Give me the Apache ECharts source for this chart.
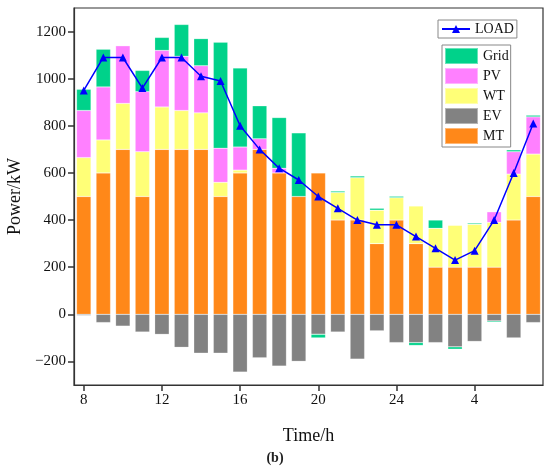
<!DOCTYPE html>
<html><head><meta charset="utf-8">
<script src="https://cdn.jsdelivr.net/npm/echarts@6/dist/echarts.min.js"></script>
<style>html,body{margin:0;padding:0;background:#fff}#c{width:550px;height:473px}</style>
</head><body><div id="c"></div>
<script>
const hours = ['8','9','10','11','12','13','14','15','16','17','18','19','20','21','22','23','24','1','2','3','4','5','6','7'];
const MT   = [500,600,700,500,700,700,700,500,600,700,600,500,600,400,400,300,400,300,200,200,200,200,400,500];
const WT   = [165,140,195,190,180,165,155,60,12,0,0,0,0,117,180,142,95,160,165,178,182,190,195,180];
const PV   = [200,225,245,255,240,230,200,145,98,45,20,0,0,0,0,0,0,0,0,0,0,45,95,158];
const Grid = [90,160,0,90,55,135,115,450,335,140,215,270,-15,6,7,8,6,-12,35,-10,5,-5,8,7];
const EV   = [-5,-35,-50,-75,-85,-140,-165,-165,-245,-185,-220,-200,-85,-75,-190,-70,-120,-120,-120,-138,-115,-28,-100,-35];
const LOAD = [950,1090,1090,960,1090,1090,1010,990,800,700,620,570,500,450,400,380,380,330,280,230,270,400,600,810];
const yTicks = [-200,0,200,400,600,800,1000,1200];

const font = 'Liberation Serif, Times New Roman, serif';
const chart = echarts.init(document.getElementById('c'));
const barCommon = {type:'bar', stack:'p', barWidth:'74%', itemStyle:{borderColor:'rgba(255,255,255,0.4)', borderWidth:0.5}};
chart.setOption({
  animation:false,
  textStyle:{fontFamily:font},
  title:{text:'(b)', left:'center', bottom:3, textStyle:{fontFamily:font, fontSize:14, fontWeight:'bold', color:'#222'}},
  grid:{left:74, right:7, top:8, bottom:88, outerBoundsMode:'none', containLabel:false, show:true, borderColor:'#333', borderWidth:1.2, backgroundColor:'transparent'},
  legend:[
    {data:['LOAD'], left:438, top:20, padding:[2,3], itemWidth:28, itemHeight:10, borderColor:'#888', borderWidth:1,
     textStyle:{fontFamily:font, fontSize:14, color:'#111'}},
    {data:['Grid','PV','WT','EV','MT'], orient:'vertical', left:442, top:45, padding:[2,2,2,2], itemGap:2, itemWidth:33, itemHeight:16,
     icon:'rect', borderColor:'#888', borderWidth:1, textStyle:{fontFamily:font, fontSize:14, color:'#111'}}
  ],
  xAxis:{type:'category', data:hours, name:'Time/h', nameLocation:'middle', nameGap:42,
    nameTextStyle:{fontFamily:font, fontSize:18, color:'#111'},
    axisLine:{show:true, onZero:false, lineStyle:{color:'#333', width:1.2}},
    axisTick:{show:true, interval:3, alignWithLabel:true, length:6, lineStyle:{color:'#333', width:1.5}},
    axisLabel:{show:true, interval:3, fontFamily:font, fontSize:15, color:'#111', margin:8}},
  yAxis:{type:'value', min:-300, max:1300, name:'Power/kW', nameLocation:'middle', nameGap:45,
    nameTextStyle:{fontFamily:font, fontSize:18, color:'#111'},
    splitLine:{show:false},
    axisLine:{show:true, lineStyle:{color:'#333', width:1.2}},
    axisTick:{show:true, length:6, customValues:yTicks, lineStyle:{color:'#333', width:1.5}},
    axisLabel:{show:true, fontFamily:font, fontSize:15, color:'#111', margin:8, customValues:yTicks,
      formatter:function(v){return v<0 ? '\u2212'+Math.abs(v) : String(v);}}},
  series:[
    Object.assign({name:'MT', data:MT, color:'#FF8819'}, barCommon),
    Object.assign({name:'EV', data:EV, color:'#828282'}, barCommon),
    Object.assign({name:'WT', data:WT, color:'#FFFF77'}, barCommon),
    Object.assign({name:'PV', data:PV, color:'#FF80FF'}, barCommon),
    Object.assign({name:'Grid', data:Grid, color:'#00D28A'}, barCommon),
    {name:'LOAD', type:'line', data:LOAD, color:'#0000FF', symbol:'triangle', symbolSize:8,
     lineStyle:{width:1.5, color:'#0000FF'}, itemStyle:{color:'#0000FF'}, z:5}
  ]
});
</script></body></html>
